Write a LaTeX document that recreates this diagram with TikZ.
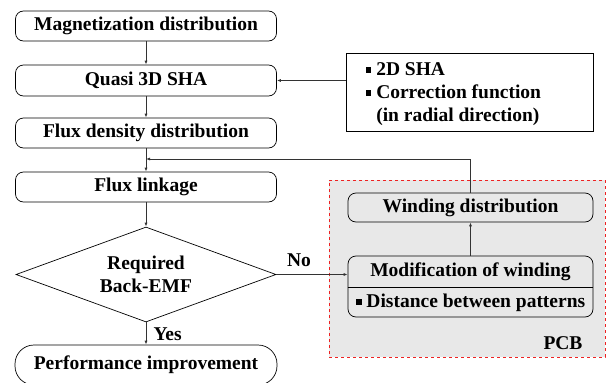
\documentclass[tikz,border=0pt]{standalone}
\usepackage{fontspec}
\setmainfont{Liberation Serif}
\usetikzlibrary{shapes.geometric,arrows.meta}
\definecolor{linegray}{HTML}{333333}
\definecolor{pcbfill}{HTML}{E8E8E8}
\definecolor{pcbred}{HTML}{EE2222}
\newcommand{\sqbullet}{\rule[0.12em]{0.3em}{0.3em}\hspace{0.25em}}
\begin{document}
\begin{tikzpicture}[x=1pt,y=-1pt,
  every node/.style={font=\fontsize{19.5}{23}\selectfont\bfseries},
  procbox/.style={draw=black,line width=0.7pt,rounded corners=8pt,minimum width=261pt,minimum height=30pt,inner sep=0pt},
  flow/.style={draw=linegray,line width=0.8pt,-{Latex[length=4pt,width=3pt]}}]
\useasboundingbox (0,0) rectangle (606,383);
\clip (0,0) rectangle (606,383);

% PCB region
\node[draw=pcbred,dashed,line width=0.7pt,fill=pcbfill,minimum width=276pt,minimum height=177pt,inner sep=0pt] (pcb) at (467,268.5) {};
\node[anchor=center] (pcblabel) at (563,343) {PCB};

% main column
\node[procbox] (mag) at (146,26) {Magnetization distribution};
\node[procbox,minimum height=31pt] (sha) at (146,80.5) {Quasi 3D SHA};
\node[procbox] (flux) at (146,133) {Flux density distribution};
\node[procbox] (link) at (146,187) {Flux linkage};
\node[draw=black,line width=0.7pt,diamond,aspect=2.74,minimum width=260pt,minimum height=95pt,inner sep=0pt,align=center] (emf) at (146,274.5) {Required\\Back-EMF};
\node[procbox,rounded corners=19pt,minimum width=262pt,minimum height=40pt] (perf) at (146,365) {};
\node (perftext) at (146,365) {Performance improvement};

% side information box
\node[draw=black,line width=0.9pt,minimum width=247pt,minimum height=78pt,inner sep=0pt] (side) at (469.5,92) {};
\node[anchor=west,align=left] (sidetext) at (362,94) {\sqbullet 2D SHA\\\sqbullet Correction function\\\hphantom{\sqbullet}(in radial direction)};

% winding boxes
\node[procbox,fill=pcbfill,minimum width=245pt,minimum height=29pt] (wind) at (470.5,207.5) {Winding distribution};
\node[procbox,fill=pcbfill,minimum width=245pt,minimum height=61pt] (mod) at (470.5,286.5) {};
\node (modtop) at (470.5,272) {Modification of winding};
\node (modbot) at (470.5,302.5) {\sqbullet Distance between patterns};
\draw[line width=0.7pt] (mod.west |- 0,287) -- (mod.east |- 0,287);

% connectors
\coordinate (join) at (146,159);
\draw[flow] (mag) -- (sha);
\draw[flow] (sha) -- (flux);
\draw[flow] (flux) -- (link);
\draw[flow] (link) -- (emf);
\draw[flow] (emf) -- (perf);
\draw[flow] (side.west |- sha.east) -- (sha.east);
\draw[flow] (emf.east) -- (mod.west |- emf.east);
\draw[flow] (mod) -- (wind);
\draw[flow] (wind.north) |- (join);

% branch labels
\node[anchor=west] (yes) at (150,334) {Yes};
\node (no) at (299,260) {No};
\end{tikzpicture}
\end{document}
